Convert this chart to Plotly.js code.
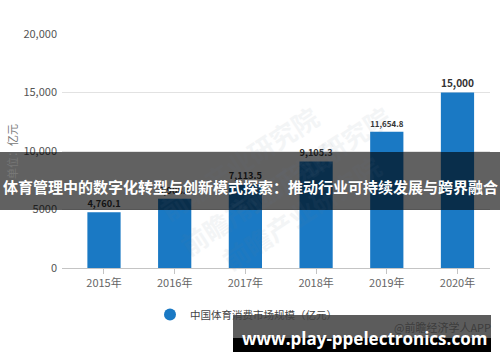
<!DOCTYPE html>
<html>
<head>
<meta charset="utf-8">
<script src="https://cdn.plot.ly/plotly-3.0.1.min.js"></script>
<style>html,body{margin:0;padding:0;background:#fff;}#chart{width:500px;height:362px;}</style>
</head>
<body>
<div id="chart"></div>
<script>
const years = ['2015年','2016年','2017年','2018年','2019年','2020年'];
const values = [4760.1, 5908.6, 7113.5, 9105.3, 11654.8, 15000];
const seriesName = '中国体育消费市场规模（亿元）';
const yTickVals = [0, 5000, 10000, 15000, 20000];
const yTickText = ['0', '5000', '10,000', '15,000', '20,000'];
const yUnit = '单位：亿元';
const bannerText = '体育管理中的数字化转型与创新模式探索：推动行业可持续发展与跨界融合';
const siteText = 'www.play-ppelectronics.com';
const sourceText = '@前瞻经济学人APP';
const watermark = '前瞻产业研究院';

const BLUE = '#1a79c4';
const CJK = '"Noto Sans CJK SC", "Noto Sans", sans-serif';

function fmt(v) {
  return Number.isInteger(v) ? v.toLocaleString('en-US') :
    v.toLocaleString('en-US', {minimumFractionDigits: 1, maximumFractionDigits: 1});
}

const L = 62, W = 428, T = 34, H = 234;
const px = x => (x - L) / W;
const py = y => (T + H - y) / H;

const traces = [
  {
    type: 'bar', x: years, y: values, width: 0.47,
    marker: {color: BLUE},
    text: values.map(fmt), textposition: 'outside', cliponaxis: false,
    textfont: {family: CJK, size: 12, color: '#333', weight: 'bold'},
    showlegend: false, hoverinfo: 'skip'
  },
  {
    type: 'scatter', mode: 'markers', x: [null], y: [null], name: seriesName,
    marker: {color: BLUE, size: 12, symbol: 'circle'}, showlegend: true
  }
];

const wm = (x, y) => ({
  xref: 'paper', yref: 'paper', x: px(x), y: py(y), text: watermark, showarrow: false,
  textangle: -33, opacity: 0.07,
  font: {family: CJK, size: 26, color: '#6a7a90', weight: 'bold'}
});

const layout = {
  width: 500, height: 362,
  margin: {l: L, r: 10, t: T, b: 94},
  paper_bgcolor: '#fff', plot_bgcolor: '#fff',
  font: {family: CJK, color: '#555'},
  xaxis: {
    type: 'category', range: [-0.594, 5.46],
    showline: true, linecolor: '#c4c4c4', linewidth: 1,
    ticks: 'outside', ticklen: 5, tickcolor: '#c4c4c4',
    tickfont: {family: CJK, size: 11, color: '#666'},
    showgrid: false, fixedrange: true
  },
  yaxis: {
    range: [0, 20000], tickvals: yTickVals, ticktext: yTickText,
    showgrid: true, gridcolor: '#e2e2e2', zeroline: false,
    ticklabelstandoff: 4,
    tickfont: {family: CJK, size: 11, color: '#555'}, fixedrange: true
  },
  legend: {
    orientation: 'h', x: px(150), y: py(300), xanchor: 'left', yanchor: 'top',
    font: {family: CJK, size: 10.5, color: '#444'}, bgcolor: 'rgba(0,0,0,0)'
  },
  shapes: [
    {type: 'rect', xref: 'paper', yref: 'paper', layer: 'above',
     x0: px(0), x1: px(500), y0: py(210), y1: py(152),
     fillcolor: 'rgba(0,0,0,0.62)', line: {width: 0}},
    {type: 'rect', xref: 'paper', yref: 'paper', layer: 'above',
     x0: px(233), x1: px(491), y0: py(338), y1: py(315),
     fillcolor: 'rgba(0,0,0,0.64)', line: {width: 0}},
    {type: 'rect', xref: 'paper', yref: 'paper', layer: 'above',
     x0: px(233), x1: px(491), y0: py(352), y1: py(338),
     fillcolor: '#000', line: {width: 0}}
  ],
  annotations: [
    wm(150, 95), wm(400, 95), wm(170, 265), wm(390, 280),
    {xref: 'paper', yref: 'paper', x: px(12), y: py(152), text: yUnit, showarrow: false,
     textangle: -90, xanchor: 'center', yanchor: 'middle',
     font: {family: CJK, size: 11, color: '#777'}},
    {xref: 'paper', yref: 'paper', x: px(250), y: py(186), text: bannerText, showarrow: false,
     xanchor: 'center', yanchor: 'middle',
     font: {family: CJK, size: 15, color: '#fff', weight: 'bold'}},
    {xref: 'paper', yref: 'paper', x: px(493), y: py(327), text: sourceText, showarrow: false,
     xanchor: 'right', yanchor: 'middle',
     font: {family: CJK, size: 11, color: '#3c3c3c'}},
    {xref: 'paper', yref: 'paper', x: px(364), y: py(338), text: siteText, showarrow: false,
     xanchor: 'center', yanchor: 'middle',
     font: {family: '"Open Sans", "DejaVu Sans", sans-serif', size: 17, color: '#fff', weight: 'bold'}}
  ]
};

Plotly.newPlot('chart', traces, layout, {displayModeBar: false, staticPlot: true});
</script>
</body>
</html>
